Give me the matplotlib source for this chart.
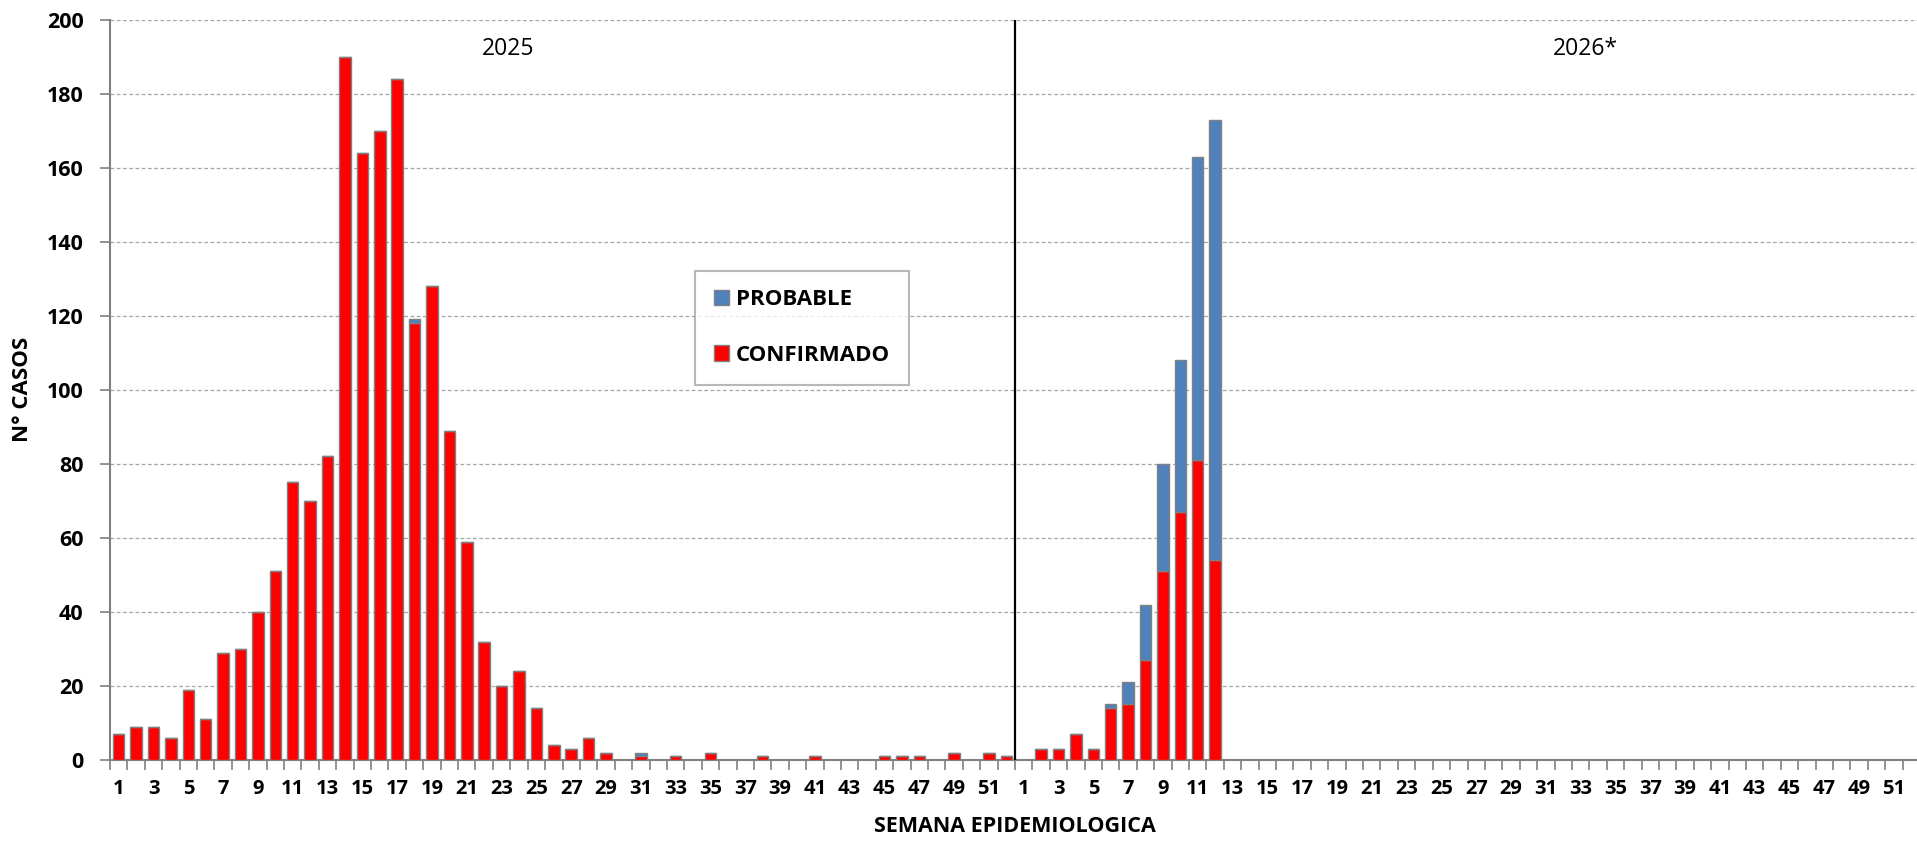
import numpy as np
import matplotlib
matplotlib.use("Agg")
import matplotlib.pyplot as plt
from matplotlib.patches import Patch

# ---------------- DATOS ----------------
semanas = list(range(1, 53))

# 2025 (semanas 1-52)
conf_2025 = [7, 9, 9, 6, 19, 11, 29, 30, 40, 51, 75, 70, 82, 190, 164, 170, 184, 118, 128, 89,
             59, 32, 20, 24, 14, 4, 3, 6, 2, 0, 1, 0, 1, 0, 2, 0, 0, 1, 0, 0,
             1, 0, 0, 0, 1, 1, 1, 0, 2, 0, 2, 1]
prob_2025 = [0, 0, 0, 0, 0, 0, 0, 0, 0, 0, 0, 0, 0, 0, 0, 0, 0, 1, 0, 0,
             0, 0, 0, 0, 0, 0, 0, 0, 0, 0, 1, 0, 0, 0, 0, 0, 0, 0, 0, 0,
             0, 0, 0, 0, 0, 0, 0, 0, 0, 0, 0, 0]

# 2026* (semanas 1-12 con datos)
conf_2026 = [0, 3, 3, 7, 3, 14, 15, 27, 51, 67, 81, 54]
prob_2026 = [0, 0, 0, 0, 0, 1, 6, 15, 29, 41, 82, 119]

yticks = list(range(0, 201, 20))

ROJO = "#FF0000"
AZUL = "#4F81BD"
BORDE = "#808080"
FUENTE = "Open Sans"

# ---------------- POSICIONES ----------------
n25 = len(semanas)
x25 = np.arange(n25)
x26 = n25 + np.arange(len(conf_2026))
ncat = 2 * n25

fig = plt.figure(figsize=(19.17, 8.42), dpi=100)
ax = fig.add_axes([110 / 1917, 82 / 842, 1810 / 1917, 740.4 / 842])

ancho = 0.66
ax.bar(x25, conf_2025, width=ancho, color=ROJO, edgecolor=BORDE, linewidth=1, zorder=3)
ax.bar(x25, prob_2025, bottom=conf_2025, width=ancho, color=AZUL, edgecolor=BORDE,
       linewidth=1, zorder=3)
ax.bar(x26, conf_2026, width=ancho, color=ROJO, edgecolor=BORDE, linewidth=1, zorder=3)
ax.bar(x26, prob_2026, bottom=conf_2026, width=ancho, color=AZUL, edgecolor=BORDE,
       linewidth=1, zorder=3)

# separador entre anios
ax.axvline(n25 - 0.5, color="black", linewidth=1.6, zorder=4)

ax.set_xlim(-0.5, ncat - 0.5)
ax.set_ylim(0, 200)

# ---------------- EJES ----------------
etiquetas = [str(s) for s in semanas] * 2
pos_lab = [i for i in range(ncat) if int(etiquetas[i]) % 2 == 1]
ax.set_xticks(pos_lab)
ax.set_xticklabels([etiquetas[i] for i in pos_lab], fontsize=14.5, fontweight="bold",
                   family=FUENTE)
ax.set_xticks(np.arange(-0.5, ncat, 1), minor=True)
ax.tick_params(axis="x", which="major", length=0, pad=14)
ax.tick_params(axis="x", which="minor", length=7, width=1.2, color=BORDE, direction="out")

ax.set_yticks(yticks)
ax.set_yticklabels([str(v) for v in yticks], fontsize=15.5, fontweight="bold", family=FUENTE)
ax.tick_params(axis="y", length=7, width=1.2, color=BORDE, pad=12)

ax.grid(axis="y", linestyle=(0, (3, 2)), color="#A6A6A6", linewidth=0.9, zorder=0)

for lado in ["top", "right"]:
    ax.spines[lado].set_visible(False)
for lado in ["left", "bottom"]:
    ax.spines[lado].set_color(BORDE)
    ax.spines[lado].set_linewidth(1.5)

ax.set_xlabel("SEMANA EPIDEMIOLOGICA", fontsize=15.5, fontweight="bold", family=FUENTE,
              labelpad=12)
ax.set_ylabel("N° CASOS", fontsize=16, fontweight="bold", family=FUENTE, labelpad=10)

# etiquetas de anio
ax.text((n25 - 1) / 2 - 3.1, 192, "2025", fontsize=16.5, family=FUENTE, ha="center", va="center")
ax.text(n25 + (n25 - 1) / 2 + 6.8, 192, "2026*", fontsize=16.5, family=FUENTE,
        ha="center", va="center")

# ---------------- LEYENDA ----------------
handles = [Patch(facecolor=AZUL, edgecolor=BORDE, label="PROBABLE"),
           Patch(facecolor=ROJO, edgecolor=BORDE, label="CONFIRMADO")]
leg = ax.legend(handles=handles, loc="upper left", bbox_to_anchor=(585 / 1810, 1 - 251 / 740.4),
                frameon=True, fancybox=False, prop={"family": FUENTE, "weight": "bold", "size": 16},
                handlelength=0.7, handleheight=0.7, handletextpad=0.3, labelspacing=1.55,
                borderpad=0.85, borderaxespad=0)
leg.get_frame().set_edgecolor("#A6A6A6")
leg.get_frame().set_linewidth(1.5)

fig.savefig("out.png", dpi=100)
